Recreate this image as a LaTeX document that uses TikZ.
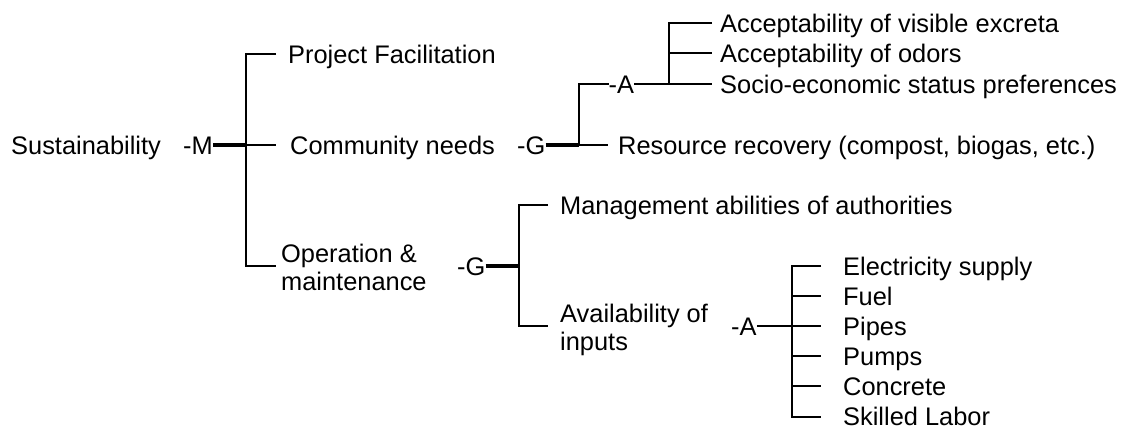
\documentclass[tikz,border=0pt]{standalone}
\usepackage{fontspec}
\setmainfont{Liberation Sans}
\begin{document}
\begin{tikzpicture}[x=1pt,y=-1pt,
  lbl/.style={anchor=west, inner sep=0pt, font=\fontsize{25.4}{29}\selectfont, text height=18.2pt, text depth=0pt},
  mlbl/.style={anchor=west, inner sep=0pt, font=\fontsize{25.4}{28}\selectfont, align=left},
  br/.style={line width=2.1pt, line join=miter},
  lnk/.style={line width=3.4pt},
  thn/.style={line width=1.5pt}]
\useasboundingbox (0,0) rectangle (1125,428);
% text nodes
\node[lbl] (sust) at (11,145) {Sustainability};
\node[lbl] (m) at (183,145) {-M};
\node[lbl] (pf) at (288,54) {Project Facilitation};
\node[lbl] (cn) at (290,145) {Community needs};
\node[mlbl] (om) at (281,267) {Operation \&\\maintenance};
\node[lbl] (gc) at (517,145) {-G};
\node[lbl] (ac) at (608.5,84) {-A};
\node[lbl] (rr) at (618,145) {Resource recovery (compost, biogas, etc.)};
\node[lbl] (ve) at (720,23) {Acceptability of visible excreta};
\node[lbl] (od) at (720,53) {Acceptability of odors};
\node[lbl] (se) at (720,84) {Socio-economic status preferences};
\node[lbl] (go) at (457,266) {-G};
\node[lbl] (ma) at (560,205) {Management abilities of authorities};
\node[mlbl] (ai) at (560,330) {Availability of\\inputs};
\node[lbl] (aa) at (731,326) {-A};
\node[lbl] (es) at (843,266) {Electricity supply};
\node[lbl] (fu) at (843,296) {Fuel};
\node[lbl] (pi) at (843,326) {Pipes};
\node[lbl] (pu) at (843,356) {Pumps};
\node[lbl] (co) at (843,386) {Concrete};
\node[lbl] (sl) at (843,416) {Skilled Labor};
% bracket coordinates
\coordinate (b1t) at (246,54);  \coordinate (b1m) at (246,145); \coordinate (b1b) at (246,266);
\coordinate (e1t) at (276,54);  \coordinate (e1m) at (276,145); \coordinate (e1b) at (276,266);
\coordinate (b2t) at (579,84);  \coordinate (b2b) at (579,145); \coordinate (e2b) at (608,145);
\coordinate (b3t) at (669,23);  \coordinate (b3m) at (669,53);  \coordinate (b3b) at (669,84);
\coordinate (e3t) at (712,23);  \coordinate (e3m) at (712,53);  \coordinate (e3b) at (712,84);
\coordinate (b4t) at (519,205); \coordinate (b4m) at (519,266); \coordinate (b4b) at (519,326);
\coordinate (e4t) at (548,205); \coordinate (e4b) at (548,326);
\coordinate (b5a) at (792,266); \coordinate (b5b) at (792,296); \coordinate (b5c) at (792,326);
\coordinate (b5d) at (792,356); \coordinate (b5e) at (792,386); \coordinate (b5f) at (792,417);
\coordinate (e5a) at (821,266); \coordinate (e5b) at (821,296); \coordinate (e5c) at (821,326);
\coordinate (e5d) at (821,356); \coordinate (e5e) at (821,386); \coordinate (e5f) at (821,417);
% level 1
\draw[lnk] (m.east) -- (b1m);
\draw[br] (e1t) -- (b1t) -- (b1b) -- (e1b);
\draw[br] (b1m) -- (e1m);
% community needs
\draw[lnk] (gc.east) -- (b2b);
\draw[br] (ac.west) -- (b2t) -- (b2b) -- (e2b);
\draw[br] (ac.east) -- (b3b);
\draw[br] (e3t) -- (b3t) -- (b3b) -- (e3b);
\draw[br] (b3m) -- (e3m);
% operation & maintenance
\draw[lnk] (go.east) -- (b4m);
\draw[br] (e4t) -- (b4t) -- (b4b) -- (e4b);
\draw[thn] (aa.east) -- (b5c);
\draw[br] (e5a) -- (b5a) -- (b5f) -- (e5f);
\draw[br] (b5b) -- (e5b);
\draw[br] (b5c) -- (e5c);
\draw[br] (b5d) -- (e5d);
\draw[br] (b5e) -- (e5e);
\end{tikzpicture}
\end{document}
